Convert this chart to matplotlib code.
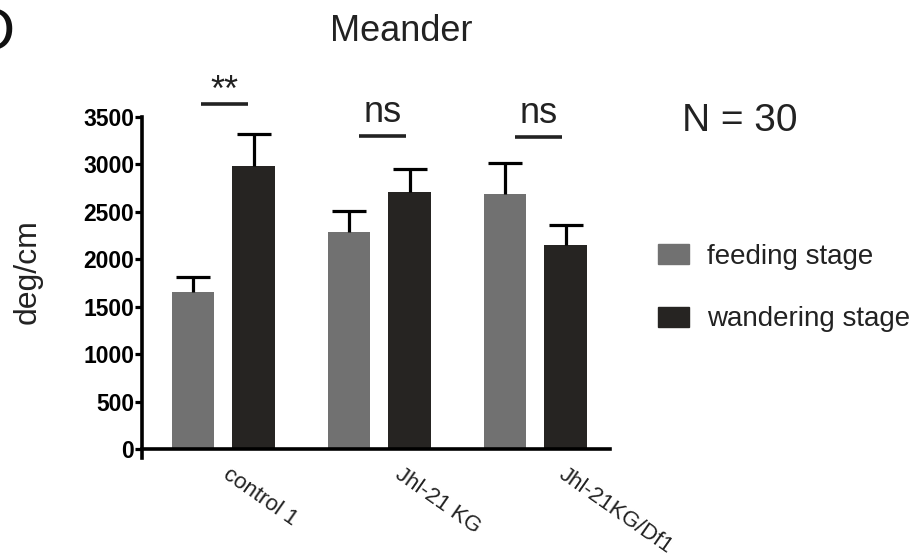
import matplotlib.pyplot as plt
import numpy as np
from matplotlib.patches import Patch

plt.rcParams['font.family'] = ['Liberation Sans', 'DejaVu Sans']

# data
groups = ['control 1', 'Jhl-21 KG', 'Jhl-21KG/Df1']
feeding = [1660, 2290, 2690]
feeding_err = [155, 215, 320]
wandering = [2985, 2710, 2150]
wandering_err = [335, 240, 210]
stages = ['feeding stage', 'wandering stage']
signif = ['**', 'ns', 'ns']

c_feed = '#717171'
c_wand = '#262422'
ink = '#222222'

fig = plt.figure(figsize=(9.18, 5.58), dpi=100)
ax = fig.add_axes([142/918, 1-449/558, (610-142)/918, (449-117)/558])

x = np.arange(len(groups))
w = 0.27
off = 0.195
for xs, vals, errs, col in [(x - off, feeding, feeding_err, c_feed),
                            (x + off, wandering, wandering_err, c_wand)]:
    ax.bar(xs, vals, w, color=col, zorder=2)
    tops = np.array(vals) + np.array(errs)
    # upper error bar only, with a cap
    ax.vlines(xs, vals, tops, color='black', lw=2.3, zorder=3)
    ax.plot(xs, tops, ls='none', marker='_', markersize=24, mew=2.3, color='black', zorder=3)

ax.set_xlim(-0.52, 2.48)
ax.set_ylim(0, 3500)
ax.set_yticks(np.arange(0, 3501, 500))
ax.set_yticklabels([str(v) for v in range(0, 3501, 500)], fontsize=16.5, fontweight='bold')
ax.tick_params(axis='y', length=5, width=2.3, direction='out', pad=0.5)
ax.set_xticks([])
for s in ['top', 'right']:
    ax.spines[s].set_visible(False)
for s in ['left', 'bottom']:
    ax.spines[s].set_linewidth(2.6)
ax.spines['left'].set_bounds(-95, 3500)

# rotated group labels
lab_dx = [6, 17, 23]
for i, g in enumerate(groups):
    ax.annotate(g, xy=(x[i], 0), xycoords='data', xytext=(lab_dx[i], -11), textcoords='offset points',
                rotation=-35, ha='left', va='top', rotation_mode='anchor', fontsize=16, color=ink)

# significance bars
sig_y = [3640, 3300, 3290]
for i, s in enumerate(signif):
    cx = x[i] + (0.01 if i == 0 else 0.02)
    ax.plot([cx - 0.15, cx + 0.15], [sig_y[i], sig_y[i]], color=ink, lw=2.6,
            clip_on=False, solid_capstyle='butt')
    ax.annotate(s, xy=(cx, sig_y[i]), xytext=(0, 4 if s == 'ns' else -4), textcoords='offset points',
                ha='center', va='bottom', fontsize=26, color=ink, annotation_clip=False)

fig.text(28/918, 1-272/558, 'deg/cm', rotation=90, fontsize=23, ha='center', va='center', color=ink)
fig.text(401/918, 1-41/558, 'Meander', fontsize=26, ha='center', va='baseline', color=ink)
fig.text(682/918, 1-131/558, 'N = 30', fontsize=28, ha='left', va='baseline', color=ink)
fig.text(15/918, 1-50/558, 'D', fontsize=44, ha='right', va='baseline', color='#111111')

# legend
handles = [Patch(color=c_feed), Patch(color=c_wand)]
fig.legend(handles, stages, loc='center left', bbox_to_anchor=(633/918, 1-288/558),
           frameon=False, fontsize=20, handlelength=1.1, handleheight=0.72,
           handletextpad=0.65, labelspacing=1.33, labelcolor=ink)

fig.savefig('out.png', dpi=100)
